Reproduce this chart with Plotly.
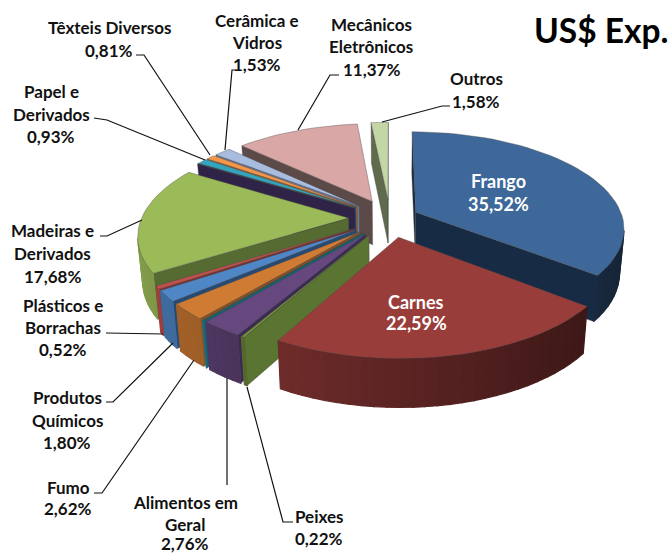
import math
import plotly.graph_objects as go

# ---- data -------------------------------------------------------------
categories = ["Frango", "Carnes", "Peixes", "Alimentos em Geral", "Outros produtos A", "Fumo",
              "Produtos Químicos", "Plásticos e Borrachas", "Madeiras e Derivados", "Outros produtos B",
              "Papel e Derivados", "Têxteis Diversos", "Cerâmica e Vidros", "Mecânicos Eletrônicos", "Outros"]
values = [35.52, 22.59, 0.22, 2.76, 0.04, 2.62, 1.80, 0.52, 17.68, 0.03, 0.93, 0.81, 1.53, 11.37, 1.58]

# ---- styles -----------------------------------------------------------
top_colors = ["#3d6899", "#993d3b", "#76923c", "#66487f", "#2f8ca6", "#cf7b33", "#4f86c6", "#c0504d",
              "#9bbb59", "#3b2b58", "#33a5c0", "#f79646", "#a8bce0", "#d9a7a6", "#c3d6a5"]
wall_colors = ["#172b44", "#5a2422", "#5a7431", "#3c2a55", "#17606f", "#8a5220", "#254b75", "#7c2f2d",
               "#566b32", "#2f2348", "#1d6a7c", "#a8642a", "#6b7c9c", "#5c4a48", "#5f6b4c"]
explode = [0.14] + [0.2] * 14

CX, CY = 390, 218
SX, SY, PERSP = 207, 95, 0.16
H0, HK, LEAN = 44, 0.035, 0.02


def project(x, y):
    s = 1 / (1 + PERSP * y)
    return CX + SX * x * s, CY - SY * y * s


def drop(p):
    u, v = p
    return CX + (u - CX) * (1 - LEAN), v + H0 + HK * (v - CY)


def shade(hex_color, f):
    r, g, b = (int(hex_color[i:i + 2], 16) for i in (1, 3, 5))
    return f"rgb({int(r * f)},{int(g * f)},{int(b * f)})"


def facing(a, b, inner, d):
    """True if the wall hanging from a-b is on the opposite side from the interior point."""
    cross = lambda p: (b[0] - a[0]) * (p[1] - a[1]) - (b[1] - a[1]) * (p[0] - a[0])
    return cross(inner) * cross(d) < 0


fig = go.Figure()


def poly(points, fill, line="rgba(70,70,70,0.55)", width=0.7, name=None):
    xs = [p[0] for p in points] + [points[0][0]]
    ys = [p[1] for p in points] + [points[0][1]]
    fig.add_trace(go.Scatter(x=xs, y=ys, mode="lines", fill="toself", fillcolor=fill,
                             line=dict(color=line, width=width), hoverinfo="skip",
                             showlegend=False, name=name))


total = sum(values)
cum = 0
slices = []
for i, val in enumerate(values):
    a0 = cum / total * 2 * math.pi
    cum += val
    a1 = cum / total * 2 * math.pi
    mid = (a0 + a1) / 2
    ex, ey = explode[i] * math.sin(mid), explode[i] * math.cos(mid)
    slices.append((math.cos(mid) + 2 * ey, i, a0, a1, ex, ey))

for _, i, a0, a1, ex, ey in sorted(slices, key=lambda s: -s[0]):
    n = max(2, int((a1 - a0) / math.radians(3)) + 1)
    angles = [a0 + (a1 - a0) * k / n for k in range(n + 1)]
    ground = [(ex + math.sin(t), ey + math.cos(t)) for t in angles]
    arc = [project(*g) for g in ground]
    apex = project(ex, ey)
    inner = arc[len(arc) // 2]
    # radial walls
    for edge in (arc[0], arc[-1]):
        if facing(apex, edge, inner, (apex[0], apex[1] + 10)):
            poly([apex, edge, drop(edge), drop(apex)], wall_colors[i])
    # curved outer wall
    for k in range(n):
        a, b = arc[k], arc[k + 1]
        if facing(a, b, apex, (a[0], a[1] + 10)):
            xm = (ground[k][0] - ex + ground[k + 1][0] - ex) / 2
            c = shade(top_colors[i], 0.6 - 0.25 * xm)
            poly([a, b, drop(b), drop(a)], c, line=c, width=1.2)
    # top face
    poly([apex] + arc, top_colors[i], name=categories[i])

# ---- leader lines -----------------------------------------------------
leaders = [
    [(100, 236), (107, 236), (142, 220)],
    [(106, 333), (163, 334)],
    [(106, 402), (113, 402), (173, 343)],
    [(94, 493), (102, 493), (194, 360)],
    [(227, 485), (227, 378)],
    [(293, 522), (283, 522), (247, 387)],
    [(136, 55), (144, 55), (210, 155)],
    [(94, 118), (107, 120), (205, 160)],
    [(236, 70), (232, 70), (225, 150)],
    [(339, 75), (330, 75), (298, 130)],
    [(450, 106), (442, 106), (382, 122)],
]
for pts in leaders:
    fig.add_trace(go.Scatter(x=[p[0] for p in pts], y=[p[1] for p in pts], mode="lines",
                             line=dict(color="#111111", width=1.2), hoverinfo="skip", showlegend=False))

# ---- labels -----------------------------------------------------------
labels = [
    ("Têxteis Diversos", 109, 27), ("0,81%", 109, 50),
    ("Cerâmica e", 257, 20), ("Vidros", 257, 42), ("1,53%", 257, 64),
    ("Mecânicos", 371, 24), ("Eletrônicos", 371, 46), ("11,37%", 371, 69),
    ("Outros", 476, 78), ("1,58%", 476, 101),
    ("Papel e", 51, 91), ("Derivados", 51, 114), ("0,93%", 51, 136),
    ("Madeiras e", 52, 230), ("Derivados", 52, 253), ("17,68%", 52, 276),
    ("Plásticos e", 63, 305), ("Borrachas", 63, 327), ("0,52%", 63, 349),
    ("Produtos", 67, 397), ("Químicos", 67, 420), ("1,80%", 67, 442),
    ("Fumo", 68, 487), ("2,62%", 68, 508),
    ("Alimentos em", 185, 502), ("Geral", 185, 524), ("2,76%", 185, 543),
    ("Peixes", 319, 516), ("0,22%", 319, 538),
]
white_labels = [("Frango", 498, 181), ("35,52%", 498, 204), ("Carnes", 416, 302), ("22,59%", 416, 323)]

anns = []
for txt, x, y in labels:
    anns.append(dict(text=txt, x=x, y=y, xref="x", yref="y", showarrow=False, xanchor="center", yanchor="middle",
                     font=dict(family="Lato", size=17, color="#111111", weight="bold")))
for txt, x, y in white_labels:
    anns.append(dict(text=txt, x=x, y=y, xref="x", yref="y", showarrow=False, xanchor="center", yanchor="middle",
                     font=dict(family="Lato", size=18, color="#ffffff", weight="bold")))
anns.append(dict(text="US$ Exp.", x=601, y=30, xref="x", yref="y", showarrow=False, xanchor="center",
                 yanchor="middle", font=dict(family="Lato", size=33.5, color="#000000", weight="bold")))

fig.update_layout(
    width=670, height=554, margin=dict(l=0, r=0, t=0, b=0),
    paper_bgcolor="white", plot_bgcolor="white", showlegend=False, annotations=anns,
    xaxis=dict(range=[0, 670], visible=False, fixedrange=True),
    yaxis=dict(range=[554, 0], visible=False, fixedrange=True),
)
fig.write_html("out.html", config={"displayModeBar": False},
               post_script="document.body.style.margin='0';document.body.style.overflow='hidden';")
